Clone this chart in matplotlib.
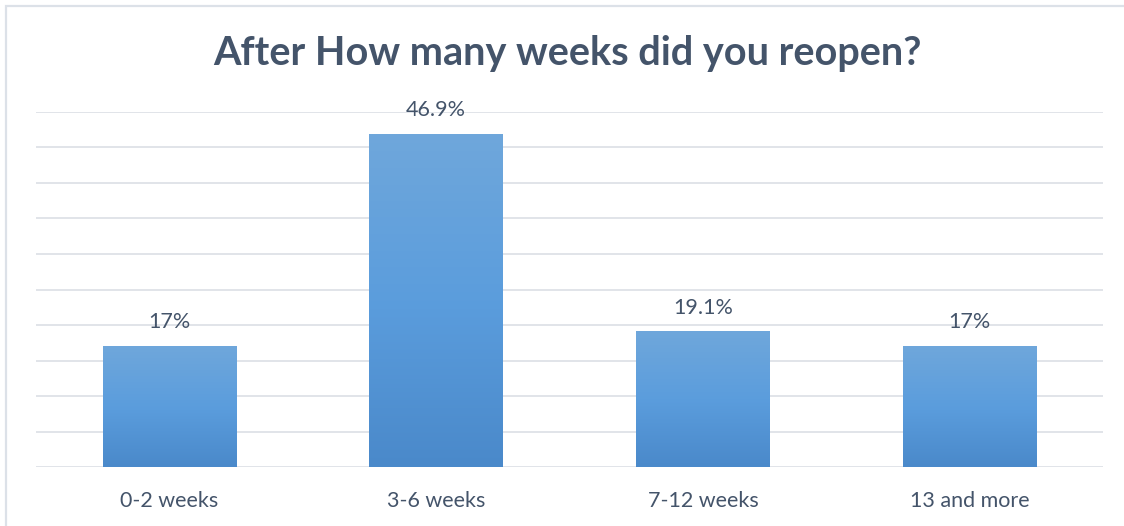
import matplotlib
matplotlib.use("Agg")
import matplotlib.pyplot as plt
import numpy as np
from matplotlib.colors import LinearSegmentedColormap
from matplotlib.patches import Rectangle

categories = ["0-2 weeks", "3-6 weeks", "7-12 weeks", "13 and more"]
values = [17, 46.9, 19.1, 17]
value_labels = ["17%", "46.9%", "19.1%", "17%"]
title = "After How many weeks did you reopen?"

W, H = 1124, 526
fig = plt.figure(figsize=(W / 100, H / 100), dpi=100)
fig.patch.set_facecolor("white")

# chart frame
fig.add_artist(Rectangle((6.5 / W, -0.01), (W - 6.5) / W + 0.02, (H - 5.5) / H + 0.01,
                         transform=fig.transFigure, fill=False,
                         edgecolor="#DCE1E8", linewidth=1.6))

ax = fig.add_axes([36 / W, 59 / H, (1103 - 36) / W, (467 - 112) / H])
ax.set_xlim(-0.5, len(categories) - 0.5)
ax.set_ylim(0, 50)
ax.set_yticks(np.arange(0, 51, 5))
ax.yaxis.grid(True, color="#E1E4E9", linewidth=1.4)
ax.set_axisbelow(True)
for s in ax.spines.values():
    s.set_visible(False)
ax.tick_params(axis="both", length=0)
ax.set_yticklabels([])

x = np.arange(len(categories))
bars = ax.bar(x, values, width=0.5, color="none", zorder=2)

cmap = LinearSegmentedColormap.from_list("blue", ["#4A89CA", "#5B9DDD", "#6FA7DB"])
grad = np.linspace(0, 1, 256).reshape(-1, 1)
for b in bars:
    x0, y0 = b.get_x(), b.get_y()
    w, h = b.get_width(), b.get_height()
    im = ax.imshow(grad, cmap=cmap, aspect="auto", origin="lower",
                   extent=[x0, x0 + w, y0, y0 + h], zorder=2)
    im.set_clip_path(b)

ax.set_xlim(-0.5, len(categories) - 0.5)
ax.set_ylim(0, 50)

for xi, v, lab in zip(x, values, value_labels):
    ax.annotate(lab, (xi, v), xytext=(0, 10), textcoords="offset points",
                ha="center", va="bottom", fontsize=15.5, family="Lato",
                color="#44546A")

ax.set_xticks(x)
ax.set_xticklabels(categories, fontsize=15.5, family="Lato", color="#44546A")
ax.tick_params(axis="x", pad=17)

fig.text(0.505, 1 - 54 / H, title, ha="center", va="center", fontsize=28.5,
         family="Lato", fontweight="bold", color="#44546A")

fig.savefig("out.png", dpi=100, facecolor="white")
